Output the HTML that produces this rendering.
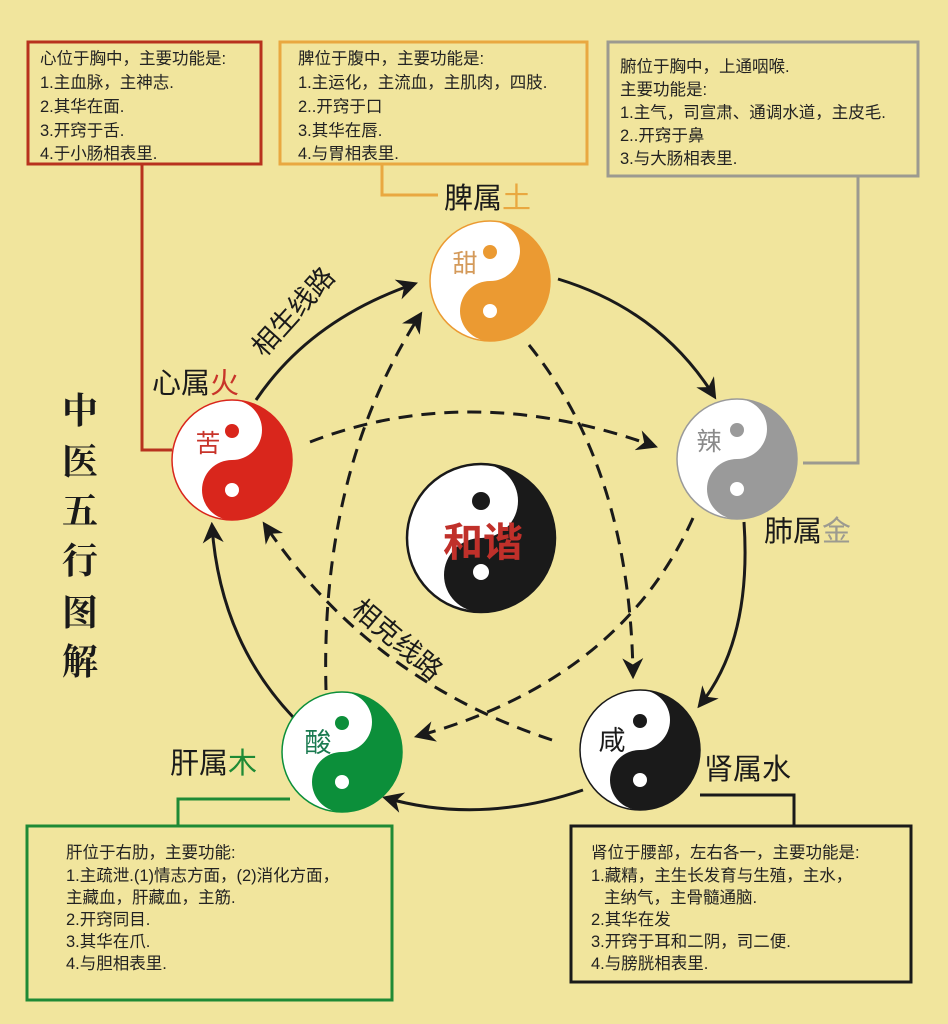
<!DOCTYPE html>
<html><head><meta charset="utf-8"><style>
html,body{margin:0;padding:0;background:#f1e59d;}
svg{display:block;font-family:"Liberation Sans","Noto Sans CJK SC",sans-serif;}
</style></head><body>
<svg width="948" height="1024" viewBox="0 0 948 1024" xmlns="http://www.w3.org/2000/svg">
<defs>
<marker id="ah" viewBox="0 0 10 10" refX="8" refY="5" markerWidth="7" markerHeight="7" orient="auto"><path d="M0,0 L10,5 L0,10 L3,5 z" fill="#1a1a1a"/></marker>
</defs>
<rect width="948" height="1024" fill="#f1e59d"/>

<g fill="none" stroke-width="3">
<rect x="28" y="42" width="233" height="122" stroke="#b8321e"/>
<rect x="280" y="42" width="307" height="122" stroke="#e9a840"/>
<rect x="608" y="42" width="310" height="134" stroke="#9c9a90"/>
<rect x="27" y="826" width="365" height="174" stroke="#1f8a35"/>
<rect x="571" y="826" width="340" height="156" stroke="#1a1a1a"/>
</g>
<g fill="none" stroke-width="3">
<polyline points="142,164 142,450 172,450" stroke="#b8321e"/>
<polyline points="382,164 382,195 438,195" stroke="#e9a840"/>
<polyline points="858,176 858,463 803,463" stroke="#9c9a90"/>
<polyline points="178,826 178,799 290,799" stroke="#1f8a35"/>
<polyline points="700,795 794,795 794,826" stroke="#1a1a1a"/>
</g>

<g font-size="16.5" fill="#222">
<text x="40" y="64">心位于胸中，主要功能是:</text>
<text x="40" y="88">1.主血脉，主神志.</text>
<text x="40" y="112">2.其华在面.</text>
<text x="40" y="136">3.开窍于舌.</text>
<text x="40" y="159">4.于小肠相表里.</text>
<text x="298" y="64">脾位于腹中，主要功能是:</text>
<text x="298" y="88">1.主运化，主流血，主肌肉，四肢.</text>
<text x="298" y="112">2..开窍于口</text>
<text x="298" y="136">3.其华在唇.</text>
<text x="298" y="159">4.与胃相表里.</text>
<text x="620" y="72">腑位于胸中，上通咽喉.</text>
<text x="620" y="95">主要功能是:</text>
<text x="620" y="118">1.主气，司宣肃、通调水道，主皮毛.</text>
<text x="620" y="141">2..开窍于鼻</text>
<text x="620" y="164">3.与大肠相表里.</text>
<text x="66" y="858">肝位于右肋，主要功能:</text>
<text x="66" y="881">1.主疏泄.(1)情志方面，(2)消化方面，</text>
<text x="66" y="903">主藏血，肝藏血，主筋.</text>
<text x="66" y="925">2.开窍同目.</text>
<text x="66" y="947">3.其华在爪.</text>
<text x="66" y="969">4.与胆相表里.</text>
<text x="591" y="858">肾位于腰部，左右各一，主要功能是:</text>
<text x="591" y="881">1.藏精，主生长发育与生殖，主水，</text>
<text x="604" y="903">主纳气，主骨髓通脑.</text>
<text x="591" y="925">2.其华在发</text>
<text x="591" y="947">3.开窍于耳和二阴，司二便.</text>
<text x="591" y="969">4.与膀胱相表里.</text>
</g>

<g font-size="36" font-weight="bold" fill="#1a1a1a" text-anchor="middle" font-family="'Noto Serif CJK SC','Noto Sans CJK SC',serif">
<text x="80" y="423">中</text><text x="80" y="474">医</text><text x="80" y="523">五</text>
<text x="80" y="573">行</text><text x="80" y="625">图</text><text x="80" y="674">解</text>
</g>

<g fill="none" stroke="#1a1a1a" stroke-width="3" marker-end="url(#ah)">
<path d="M256,400 Q310,320 414,284"/>
<path d="M558,279 Q660,310 714,396"/>
<path d="M744,522 Q752,640 700,705"/>
<path d="M583,790 Q480,825 386,798"/>
<path d="M293,717 Q220,640 212,526"/>
</g>
<g fill="none" stroke="#1a1a1a" stroke-width="3" stroke-dasharray="14,9" marker-end="url(#ah)">
<path d="M310,442 Q470,380 654,446"/>
<path d="M529,345 Q630,470 633,675"/>
<path d="M693,518 Q620,680 418,736"/>
<path d="M552,740 Q370,680 265,525"/>
<path d="M326,690 Q320,470 420,315"/>
</g>
<text x="0" y="0" font-size="27" fill="#1a1a1a" transform="translate(264,358) rotate(-48)">相生线路</text>
<text x="0" y="0" font-size="27" fill="#1a1a1a" transform="translate(350,612) rotate(40)">相克线路</text>

<g>
<circle cx="232" cy="460" r="60" fill="#fff" stroke="#d9261c" stroke-width="1.5"/>
<path d="M232,400 A60,60 0 0 1 232,520 A30,30 0 0 1 232,460 A30,30 0 0 0 232,400 z" fill="#d9261c"/>
<circle cx="232" cy="431" r="7" fill="#d9261c"/><circle cx="232" cy="490" r="7" fill="#fff"/>
<text x="208" y="452" font-size="25" fill="#c8342a" text-anchor="middle">苦</text>
<circle cx="490" cy="281" r="60" fill="#fff" stroke="#eb9a32" stroke-width="1.5"/>
<path d="M490,221 A60,60 0 0 1 490,341 A30,30 0 0 1 490,281 A30,30 0 0 0 490,221 z" fill="#eb9a32"/>
<circle cx="490" cy="252" r="7" fill="#eb9a32"/><circle cx="490" cy="311" r="7" fill="#fff"/>
<text x="465" y="272" font-size="25" fill="#d49a5a" text-anchor="middle">甜</text>
<circle cx="737" cy="459" r="60" fill="#fff" stroke="#9a9a9a" stroke-width="1.5"/>
<path d="M737,399 A60,60 0 0 1 737,519 A30,30 0 0 1 737,459 A30,30 0 0 0 737,399 z" fill="#9a9a9a"/>
<circle cx="737" cy="430" r="7" fill="#9a9a9a"/><circle cx="737" cy="489" r="7" fill="#fff"/>
<text x="709" y="450" font-size="25" fill="#8a8a8a" text-anchor="middle">辣</text>
<circle cx="640" cy="750" r="60" fill="#fff" stroke="#1a1a1a" stroke-width="1.5"/>
<path d="M640,690 A60,60 0 0 1 640,810 A30,30 0 0 1 640,750 A30,30 0 0 0 640,690 z" fill="#1a1a1a"/>
<circle cx="640" cy="721" r="7" fill="#1a1a1a"/><circle cx="640" cy="780" r="7" fill="#fff"/>
<text x="612" y="750" font-size="27" fill="#1a1a1a" text-anchor="middle">咸</text>
<circle cx="342" cy="752" r="60" fill="#fff" stroke="#0c8f3a" stroke-width="1.5"/>
<path d="M342,692 A60,60 0 0 1 342,812 A30,30 0 0 1 342,752 A30,30 0 0 0 342,692 z" fill="#0c8f3a"/>
<circle cx="342" cy="723" r="7" fill="#0c8f3a"/><circle cx="342" cy="782" r="7" fill="#fff"/>
<text x="318" y="752" font-size="27" fill="#1a7a50" text-anchor="middle">酸</text>
<circle cx="481" cy="538" r="74" fill="#fff" stroke="#1a1a1a" stroke-width="2.5"/>
<path d="M481,464 A74,74 0 0 1 481,612 A37,37 0 0 1 481,538 A37,37 0 0 0 481,464 z" fill="#1a1a1a"/>
<circle cx="481" cy="501" r="9" fill="#1a1a1a"/><circle cx="481" cy="572" r="8" fill="#fff"/>
<text x="483" y="556" font-size="40" font-weight="bold" fill="#c0302a" text-anchor="middle">和谐</text>
</g>

<g font-size="29" fill="#1a1a1a">
<text x="152" y="393">心属<tspan fill="#c8342a">火</tspan></text>
<text x="444" y="208">脾属<tspan fill="#e9a840">土</tspan></text>
<text x="764" y="541">肺属<tspan fill="#9c9a90">金</tspan></text>
<text x="704" y="779">肾属水</text>
<text x="170" y="773">肝属<tspan fill="#1f8a35">木</tspan></text>
</g>
</svg>
</body></html>
